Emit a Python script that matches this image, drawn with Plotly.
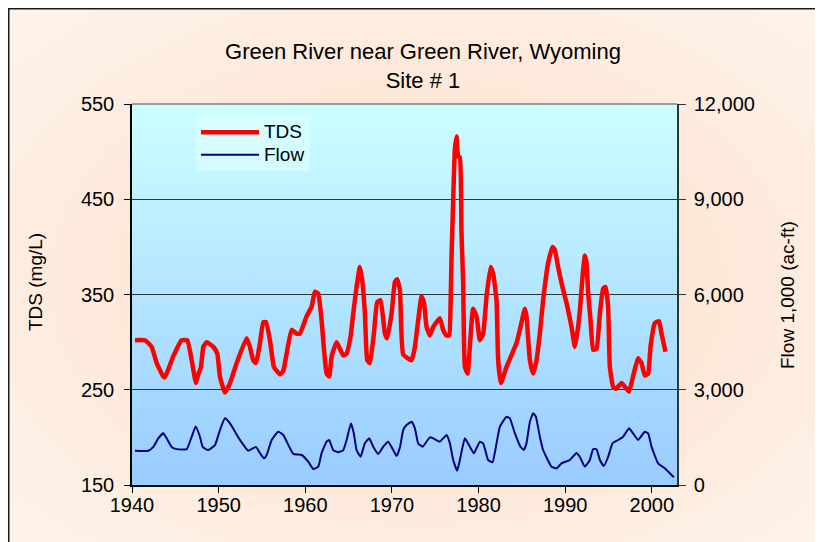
import base64
import plotly.graph_objects as go

# ---------------- data ----------------
tds_year = [1940.35, 1941.5, 1942.27, 1942.85, 1943.61, 1943.8, 1944.76, 1945.73, 1946.38, 1946.89,
            1947.38, 1947.58, 1947.96, 1948.23, 1948.62, 1949.38, 1949.84, 1950.15, 1950.73, 1951.31,
            1952.08, 1953.23, 1953.61, 1953.99, 1954.31, 1954.77, 1955.15, 1955.46, 1955.92, 1956.38,
            1957.08, 1957.46, 1957.85, 1958.42, 1959.0, 1959.38, 1960.15, 1960.73, 1961.11, 1961.49,
            1961.88, 1962.07, 1962.46, 1962.76, 1963.04, 1963.62, 1964.38, 1964.77, 1965.23, 1965.53,
            1965.92, 1966.3, 1966.57, 1966.88, 1967.15, 1967.46, 1967.92, 1968.3, 1968.69, 1969.19,
            1969.45, 1969.96, 1970.34, 1970.6, 1970.92, 1971.3, 1972.27, 1972.65, 1973.03, 1973.42,
            1973.69, 1974.0, 1974.38, 1974.77, 1975.53, 1975.91, 1976.31, 1976.61, 1976.77, 1976.88,
            1977.07, 1977.26, 1977.46, 1977.64, 1977.84, 1978.03, 1978.22, 1978.42, 1978.73, 1978.99,
            1979.37, 1979.77, 1980.15, 1980.53, 1980.92, 1981.38, 1981.68, 1982.07, 1982.26, 1982.57,
            1983.23, 1984.38, 1984.84, 1985.34, 1985.53, 1985.92, 1986.3, 1986.69, 1987.07, 1987.45,
            1988.03, 1988.54, 1988.8, 1989.18, 1989.57, 1990.15, 1990.73, 1991.11, 1991.38, 1991.69,
            1992.0, 1992.26, 1992.46, 1992.65, 1992.92, 1993.22, 1993.61, 1994.0, 1994.37, 1994.65,
            1994.95, 1995.15, 1995.53, 1995.84, 1996.5, 1997.07, 1997.37, 1997.83, 1998.41, 1998.8,
            1999.18, 1999.57, 1999.84, 2000.34, 2000.83, 2001.11, 2001.57]

tds_mgl = [302, 302, 295, 278, 264, 263, 285, 302, 302, 281,
           257, 264, 274, 295, 300, 295, 288, 264, 247, 257,
           278, 304, 295, 281, 278, 299, 321, 321, 302, 274,
           266, 270, 288, 313, 309, 309, 327, 337, 353, 351,
           323, 302, 267, 264, 285, 300, 286, 288, 306, 330,
           358, 379, 365, 330, 281, 278, 309, 342, 344, 309,
           304, 330, 363, 366, 355, 287, 281, 295, 323, 348,
           342, 316, 307, 316, 325, 313, 307, 307, 341, 390,
           449, 502, 516, 495, 494, 414, 362, 274, 267, 295,
           335, 327, 302, 309, 348, 379, 372, 344, 281, 257,
           274, 299, 316, 335, 327, 281, 267, 281, 309, 344,
           383, 400, 397, 379, 362, 341, 316, 295, 309, 333,
           369, 391, 383, 351, 323, 292, 293, 330, 356, 358,
           337, 274, 253, 251, 257, 251, 248, 264, 283, 278,
           265, 267, 295, 320, 322, 309, 290]

flow_year = [1940.35, 1941.88, 1942.46, 1943.03, 1943.61, 1944.0, 1944.58, 1945.16, 1946.31, 1946.89,
             1947.35, 1947.84, 1948.16, 1948.8, 1949.58, 1950.15, 1950.73, 1951.31, 1952.46, 1953.42,
             1954.31, 1954.77, 1955.23, 1955.54, 1956.12, 1956.88, 1957.46, 1958.61, 1959.58, 1960.34,
             1960.92, 1961.49, 1961.88, 1962.46, 1962.76, 1963.22, 1963.8, 1964.38, 1964.77, 1965.27,
             1965.6, 1965.92, 1966.38, 1966.88, 1967.38, 1967.84, 1968.42, 1969.0, 1969.57, 1970.15,
             1970.54, 1970.92, 1971.3, 1971.69, 1972.27, 1972.65, 1973.03, 1973.54, 1974.38, 1974.77,
             1975.53, 1976.31, 1976.69, 1977.07, 1977.53, 1977.84, 1978.42, 1978.99, 1979.45, 1980.15,
             1980.53, 1981.1, 1981.61, 1982.07, 1982.46, 1983.23, 1983.61, 1984.19, 1984.84, 1985.22,
             1985.53, 1985.92, 1986.3, 1986.61, 1987.07, 1987.45, 1988.42, 1989.0, 1989.57, 1990.53,
             1991.3, 1991.69, 1992.26, 1992.84, 1993.22, 1993.61, 1994.0, 1994.46, 1994.95, 1995.46,
             1996.11, 1996.68, 1997.37, 1997.83, 1998.41, 1999.18, 1999.57, 1999.96, 2000.72, 2001.49,
             2002.53]

flow_kaf = [1080, 1080, 1200, 1470, 1630, 1470, 1200, 1130, 1130, 1520,
            1840, 1520, 1200, 1100, 1260, 1730, 2100, 1940, 1420, 1080,
            1200, 1000, 840, 945, 1420, 1680, 1575, 980, 945, 735,
            504, 577, 1000, 1365, 1417, 1100, 1030, 1100, 1417, 1942,
            1628, 1100, 892, 1312, 1470, 1207, 977, 1207, 1365, 1102,
            913, 1180, 1732, 1890, 1995, 1785, 1312, 1207, 1501, 1470,
            1365, 1575, 1312, 787, 451, 787, 1470, 1207, 997, 1365,
            1312, 787, 714, 1312, 1837, 2152, 2100, 1628, 1207, 1102,
            1312, 1995, 2257, 2152, 1522, 1102, 577, 525, 682, 787,
            1008, 882, 577, 787, 1134, 1124, 787, 598, 882, 1312,
            1417, 1522, 1785, 1628, 1417, 1680, 1628, 1207, 682, 525,
            242]

x_ticks = [1940, 1950, 1960, 1970, 1980, 1990, 2000]
x_range = [1940, 2002.9]
tds_ticks = [150, 250, 350, 450, 550]
tds_range = [150, 550]
flow_ticks = [0, 3000, 6000, 9000, 12000]
flow_range = [0, 12000]

# ---------------- geometry (page sits 8 px inside the window) ----------------
W, H = 815, 534
L, R, T, B = 124, 146, 96, 57
pw, ph = W - L - R, H - T - B


def px_x(px):
    return (px - L) / pw


def px_y(py):
    return (H - B - py) / ph


def svg_uri(svg):
    return "data:image/svg+xml;base64," + base64.b64encode(svg.encode()).decode()


page_svg = (
    f"<svg xmlns='http://www.w3.org/2000/svg' width='{W}' height='{H}' viewBox='0 0 {W} {H}' preserveAspectRatio='none'>"
    "<defs><radialGradient id='p' cx='0.5' cy='0.5' r='0.75'>"
    "<stop offset='0' stop-color='#FCDFCA'/><stop offset='0.55' stop-color='#FDEADC'/>"
    "<stop offset='1' stop-color='#FEF6EE'/></radialGradient></defs>"
    f"<rect x='0.75' y='0.75' width='{W + 10}' height='{H + 10}' fill='url(#p)' stroke='#1a1a1a' stroke-width='1.5'/>"
    "</svg>"
)
plot_svg = (
    "<svg xmlns='http://www.w3.org/2000/svg' width='10' height='10' viewBox='0 0 10 10' preserveAspectRatio='none'>"
    "<defs><linearGradient id='g' x1='0' y1='0' x2='0' y2='1'>"
    "<stop offset='0' stop-color='#CCFFFF'/><stop offset='1' stop-color='#99CCFF'/>"
    "</linearGradient></defs><rect width='10' height='10' fill='url(#g)'/></svg>"
)

FONT = "Liberation Sans, Arial, sans-serif"


def legend_label(s):
    return f"<span style='font-size:19px'>{s}</span>"


fig = go.Figure()
fig.add_trace(go.Scatter(x=tds_year, y=tds_mgl, name=legend_label("TDS"), mode="lines",
                         line=dict(color="#FF0000", width=4.5, shape="spline", smoothing=0.4),
                         yaxis="y"))
fig.add_trace(go.Scatter(x=flow_year, y=flow_kaf, name=legend_label("Flow"), mode="lines",
                         line=dict(color="#000080", width=2, shape="spline", smoothing=0.4),
                         yaxis="y2"))

fig.update_layout(
    width=W, height=H,
    margin=dict(l=L, r=R, t=T, b=B, autoexpand=False),
    paper_bgcolor="white",
    plot_bgcolor="rgba(0,0,0,0)",
    font=dict(family=FONT, size=20, color="black"),
    title=dict(text="Green River near Green River, Wyoming<br>Site # 1",
               font=dict(family=FONT, size=22, color="black"),
               x=px_x(415), xref="paper", xanchor="center",
               y=1 - 51 / H, yref="container", yanchor="top"),
    xaxis=dict(range=x_range, tickvals=x_ticks, ticks="outside", ticklen=6,
               tickcolor="black", showline=True, linecolor="black", linewidth=1.5,
               showgrid=False, zeroline=False, tickfont=dict(size=20),
               ticklabelstandoff=-5),
    yaxis=dict(range=tds_range, tickvals=tds_ticks, ticks="outside", ticklen=6,
               tickcolor="black", showline=True, linecolor="black", linewidth=1.5,
               showgrid=True, gridcolor="#333333", gridwidth=1, zeroline=False,
               tickfont=dict(size=20), ticklabelstandoff=6),
    yaxis2=dict(range=flow_range, tickvals=flow_ticks, tickformat=",", overlaying="y",
                side="right", ticks="outside", ticklen=7, tickcolor="#333333",
                showline=True, linecolor="#333333", linewidth=1.5, showgrid=False,
                zeroline=False, tickfont=dict(size=20), ticklabelstandoff=4),
    legend=dict(x=px_x(188), y=px_y(108), xanchor="left", yanchor="top",
                bgcolor="rgba(225,255,255,0.55)", borderwidth=0, font=dict(size=15),
                tracegroupgap=0, itemwidth=58),
    annotations=[
        dict(text="TDS (mg/L)", textangle=-90, xref="paper", yref="paper",
             x=px_x(27), y=px_y(274), xanchor="center", yanchor="middle",
             showarrow=False, font=dict(size=19)),
        dict(text="Flow 1,000 (ac-ft)", textangle=-90, xref="paper", yref="paper",
             x=px_x(779), y=px_y(287), xanchor="center", yanchor="middle",
             showarrow=False, font=dict(size=19)),
    ],
    images=[
        dict(source=svg_uri(page_svg), xref="paper", yref="paper",
             x=-L / pw, y=1 + T / ph, sizex=W / pw, sizey=H / ph,
             sizing="stretch", layer="below", xanchor="left", yanchor="top"),
        dict(source=svg_uri(plot_svg), xref="paper", yref="paper",
             x=0, y=1, sizex=1, sizey=1, sizing="stretch", layer="below",
             xanchor="left", yanchor="top"),
    ],
    shapes=[dict(type="line", xref="paper", yref="paper", x0=0, x1=1, y0=1, y1=1,
                 line=dict(color="#808080", width=1.5))],
    showlegend=True,
)

fig.write_html("out.html")
